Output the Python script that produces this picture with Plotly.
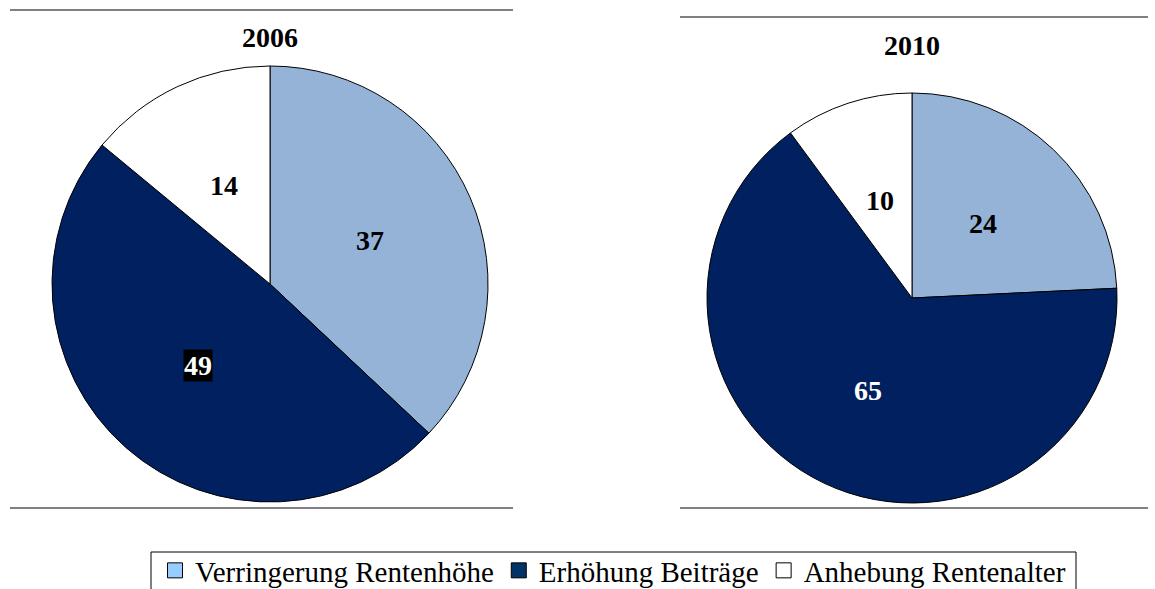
import math
import plotly.graph_objects as go

labels = ["Verringerung Rentenhöhe", "Erhöhung Beiträge", "Anhebung Rentenalter"]
values_2006 = [37, 49, 14]
values_2010 = [24, 65, 10]
years = ["2006", "2010"]

slice_colors = ["#95B3D7", "#002060", "#FFFFFF"]
legend_colors = ["#99CCFF", "#003366", "#FFFFFF"]
label_colors = ["black", "white", "black"]

W, H = 1155, 589
FONT = "Liberation Serif"

# pie centers / radius in pixels
pies = [
    dict(vals=values_2006, cx=270, cy=284, r=218, title_y=37),
    dict(vals=values_2010, cx=912, cy=298, r=205, title_y=46),
]

fig = go.Figure()
annotations = []

for year, p in zip(years, pies):
    cx, cy, r = p["cx"], p["cy"], p["r"]
    fig.add_trace(go.Pie(
        labels=labels, values=p["vals"], sort=False, direction="clockwise",
        rotation=0, textinfo="none", hoverinfo="label+value",
        marker=dict(colors=slice_colors, line=dict(color="black", width=1)),
        domain=dict(x=[(cx - r) / W, (cx + r) / W],
                    y=[(H - cy - r) / H, (H - cy + r) / H]),
        showlegend=False,
    ))
    annotations.append(dict(
        text="<b>" + year + "</b>", x=cx / W, y=1 - p["title_y"] / H,
        xref="paper", yref="paper", showarrow=False,
        xanchor="center", yanchor="middle",
        font=dict(family=FONT, size=28, color="black"),
    ))
    # value labels at half radius, mid angle of each slice
    total = sum(p["vals"])
    start = 0
    for v, col in zip(p["vals"], label_colors):
        mid = (start + v / 2) / total * 2 * math.pi
        start += v
        px_ = cx + 0.5 * r * math.sin(mid)
        py_ = cy - 0.5 * r * math.cos(mid)
        bg = "black" if (year == "2006" and col == "white") else None
        annotations.append(dict(
            text="<b>%d</b>" % v, x=px_ / W, y=1 - py_ / H,
            xref="paper", yref="paper", showarrow=False,
            xanchor="center", yanchor="middle",
            font=dict(family=FONT, size=28, color=col),
            bgcolor=bg, borderpad=0,
        ))

# legend-only entries
for lab, col in zip(labels, legend_colors):
    fig.add_trace(go.Scatter(
        x=[None], y=[None], mode="markers", name=lab,
        marker=dict(symbol="square", size=15, color=col,
                    line=dict(color="black", width=1)),
    ))

shapes = []
for x0, x1, y in [(10, 513, 10), (10, 513, 508), (680, 1148, 17), (680, 1148, 508)]:
    shapes.append(dict(type="line", xref="paper", yref="paper",
                       x0=x0 / W, x1=x1 / W, y0=1 - y / H, y1=1 - y / H,
                       line=dict(color="#808080", width=2)))
# legend frame (runs off the bottom edge like the original)
shapes.append(dict(type="rect", xref="paper", yref="paper",
                   x0=151 / W, x1=1076 / W, y0=1 - 552 / H, y1=1 - 610 / H,
                   line=dict(color="black", width=1)))

fig.update_layout(
    width=W, height=H,
    margin=dict(l=0, r=0, t=0, b=0, autoexpand=False),
    paper_bgcolor="white", plot_bgcolor="white",
    xaxis=dict(visible=False), yaxis=dict(visible=False),
    annotations=annotations, shapes=shapes,
    showlegend=True,
    legend=dict(orientation="h", x=613 / W, xanchor="center",
                y=1 - 545 / H, yanchor="top",
                bgcolor="rgba(0,0,0,0)", borderwidth=0,
                font=dict(family=FONT, size=29, color="black"),
                itemwidth=30, tracegroupgap=0),
)

fig.write_html("out.html", config={"displayModeBar": False},
               post_script="document.body.style.margin='0';"
                           "document.body.style.overflow='hidden';")
